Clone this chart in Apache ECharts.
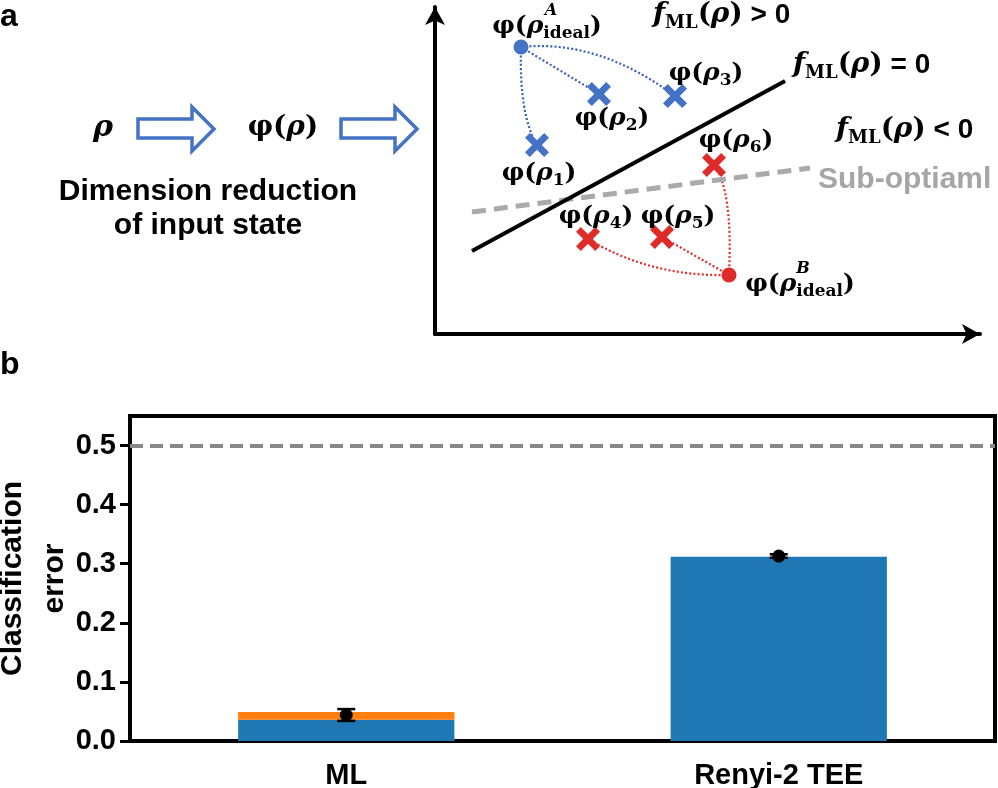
<!DOCTYPE html>
<html><head><meta charset="utf-8">
<script src="https://cdn.jsdelivr.net/npm/echarts@6/dist/echarts.min.js"></script>
<style>html,body{margin:0;padding:0;background:#fff}#c{width:998px;height:788px}</style>
</head><body><div id="c"></div>
<script>
// ---------- Panel b data ----------
const categories = ['ML', 'Renyi-2 TEE'];
const blueValues = [0.036, 0.312];
const orangeValues = [0.013, 0];
const meanValues = [0.044, 0.313];
const errValues = [0.010, 0.003];
const chanceLevel = 0.5;
const yTickValues = [0, 0.1, 0.2, 0.3, 0.4, 0.5];

// ---------- Panel a schematic (abstract feature-space units) ----------
const classAIdeal = [86, 287];
const classAPoints = [[102, 189], [164, 240], [240, 238]];
const classANames = ['1', '2', '3'];
const classAControls = [[84, 219], null, [163, 295]];
const classBIdeal = [294, 59];
const classBPoints = [[153, 95], [227, 97], [279, 169]];
const classBNames = ['4', '5', '6'];
const classBControls = [[216, 57], null, [298, 144]];
const boundaryLine = [[37, 83], [350, 253]];
const subOptimalLine = [[37, 122], [375, 166]];

// ---------- styling ----------
const SANS = 'Liberation Sans, Arial, sans-serif';
const SERIF = 'DejaVu Serif, serif';
const BLUE = '#4472C4';
const BLUE_LINK = '#3560B0';
const RED = '#E02B2B';
const XPATH = 'path://M2,0 L5,3 L8,0 L10,2 L7,5 L10,8 L8,10 L5,7 L2,10 L0,8 L3,5 L0,2 Z';

const phiRich = {
  m: {fontFamily: SERIF, fontWeight: 'bold', fontSize: 25, lineHeight: 32, color: '#000'},
  r: {fontFamily: SERIF, fontWeight: 'bold', fontStyle: 'italic', fontSize: 25, lineHeight: 32, color: '#000'},
  s: {fontFamily: SERIF, fontWeight: 'bold', fontSize: 17, lineHeight: 17, verticalAlign: 'bottom', color: '#000'}
};
const fRich = {
  f: {fontFamily: SERIF, fontWeight: 'bold', fontStyle: 'italic', fontSize: 28, lineHeight: 34, color: '#000'},
  s: {fontFamily: SERIF, fontWeight: 'bold', fontSize: 18, lineHeight: 18, verticalAlign: 'bottom', color: '#000'},
  m: {fontFamily: SERIF, fontWeight: 'bold', fontSize: 28, lineHeight: 34, color: '#000'},
  r: {fontFamily: SERIF, fontWeight: 'bold', fontStyle: 'italic', fontSize: 28, lineHeight: 34, color: '#000'},
  g: {fontFamily: SANS, fontWeight: 'bold', fontSize: 28, lineHeight: 34, color: '#000'}
};
const fText = op => '{f|f}{s|ML}{m|(}{r|ρ}{m|)}{g| ' + op + ' 0}';

const offsA = [[2, 28], [13, 24], [31, -23]];
const offsB = [[8, -23], [16, -21], [22, -25]];

function pointItems(points, names, offs) {
  return points.map((p, i) => ({value: p, name: names[i], label: {offset: offs[i]}}));
}
function linkRows(ideal, points, controls) {
  return points.map((p, i) => {
    const c = controls[i];
    return [ideal[0], ideal[1], p[0], p[1], c ? c[0] : '-', c ? c[1] : '-'];
  });
}
function linkSeries(rows, color) {
  return {
    type: 'custom', xAxisIndex: 0, yAxisIndex: 0, silent: true, z: 1,
    data: rows, encode: {x: [0, 2], y: [1, 3]},
    renderItem: (params, api) => {
      const p0 = api.coord([api.value(0), api.value(1)]);
      const p1 = api.coord([api.value(2), api.value(3)]);
      const style = {stroke: color, lineWidth: 2.2, lineDash: [2, 2.2], fill: null};
      const cx = api.value(4), cy = api.value(5);
      if (isNaN(cx) || isNaN(cy)) {
        return {type: 'line', shape: {x1: p0[0], y1: p0[1], x2: p1[0], y2: p1[1]}, style};
      }
      const c = api.coord([cx, cy]);
      return {type: 'bezierCurve', shape: {x1: p0[0], y1: p0[1], cpx1: c[0], cpy1: c[1], x2: p1[0], y2: p1[1]}, style};
    }
  };
}

const chart = echarts.init(document.getElementById('c'), null, {renderer: 'canvas'});

const arrowPts = x0 => [[x0, 119], [x0 + 54, 119], [x0 + 54, 107], [x0 + 76, 129], [x0 + 54, 151], [x0 + 54, 138], [x0, 138]];

const option = {
  animation: false,
  backgroundColor: '#fff',
  grid: [
    {left: 435, right: 18, top: 7, bottom: 454, show: false, containLabel: false, outerBoundsMode: 'none'},
    {left: 130, right: 3, top: 416, bottom: 47, show: true, borderColor: '#000', borderWidth: 4,
      containLabel: false, outerBoundsMode: 'none'}
  ],
  xAxis: [
    {type: 'value', gridIndex: 0, min: 0, max: 545,
      axisLine: {show: true, symbol: ['none', 'arrow'], symbolSize: [15, 18], lineStyle: {color: '#000', width: 4}},
      axisTick: {show: false}, axisLabel: {show: false}, splitLine: {show: false}},
    {type: 'category', gridIndex: 1, data: categories,
      axisLine: {lineStyle: {color: '#000', width: 4}}, axisTick: {show: false},
      axisLabel: {color: '#000', fontFamily: SANS, fontWeight: 'bold', fontSize: 29, margin: 20}}
  ],
  yAxis: [
    {type: 'value', gridIndex: 0, min: 0, max: 327,
      axisLine: {show: true, symbol: ['none', 'arrow'], symbolSize: [15, 18], lineStyle: {color: '#000', width: 4}},
      axisTick: {show: false}, axisLabel: {show: false}, splitLine: {show: false}},
    {type: 'value', gridIndex: 1, min: 0, max: 0.55, interval: 0.1,
      name: 'Classification\nerror', nameLocation: 'middle', nameRotate: 90, nameGap: 54, nameMoveOverlap: false,
      nameTextStyle: {color: '#000', fontFamily: SANS, fontWeight: 'bold', fontSize: 30, lineHeight: 42},
      axisLine: {show: true, lineStyle: {color: '#000', width: 4}},
      axisTick: {show: true, length: 10, lineStyle: {color: '#000', width: 3}, customValues: yTickValues},
      axisLabel: {color: '#000', fontFamily: SANS, fontWeight: 'bold', fontSize: 29, margin: 14,
        customValues: yTickValues, formatter: v => v.toFixed(1)},
      splitLine: {show: false}}
  ],
  graphic: [
    {type: 'text', x: 0, y: 17, style: {text: 'a', font: 'bold 32px ' + SANS, fill: '#000', verticalAlign: 'middle'}},
    {type: 'text', x: 0, y: 365, style: {text: 'b', font: 'bold 32px ' + SANS, fill: '#000', verticalAlign: 'middle'}},
    {type: 'text', x: 103, y: 128, style: {text: 'ρ', font: 'italic bold 30px ' + SERIF, fill: '#000', align: 'center', verticalAlign: 'middle'}},
    {type: 'text', x: 283, y: 128, style: {text: '{m|φ(}{r|ρ}{m|)}', rich: {
      m: {fontFamily: SERIF, fontWeight: 'bold', fontSize: 28, color: '#000'},
      r: {fontFamily: SERIF, fontWeight: 'bold', fontStyle: 'italic', fontSize: 28, color: '#000'}}, align: 'center', verticalAlign: 'middle'}},
    {type: 'text', x: 208, y: 192, style: {text: 'Dimension reduction', font: 'bold 30px ' + SANS, fill: '#000', align: 'center', verticalAlign: 'middle'}},
    {type: 'text', x: 208, y: 226, style: {text: 'of input state', font: 'bold 30px ' + SANS, fill: '#000', align: 'center', verticalAlign: 'middle'}},
    {type: 'polygon', shape: {points: arrowPts(138)}, style: {fill: '#fff', stroke: BLUE, lineWidth: 3.5}},
    {type: 'polygon', shape: {points: arrowPts(341)}, style: {fill: '#fff', stroke: BLUE, lineWidth: 3.5}},
    {type: 'text', x: 653, y: 15, style: {text: fText('>'), rich: fRich, verticalAlign: 'middle'}},
    {type: 'text', x: 836, y: 130, style: {text: fText('<'), rich: fRich, verticalAlign: 'middle'}}
  ],
  series: [
    // ---- panel a ----
    linkSeries(linkRows(classAIdeal, classAPoints, classAControls), BLUE_LINK),
    linkSeries(linkRows(classBIdeal, classBPoints, classBControls), RED),
    {type: 'line', xAxisIndex: 0, yAxisIndex: 0, data: subOptimalLine, symbol: 'none', silent: true, z: 2,
      lineStyle: {color: '#aaaaaa', width: 5, type: [14, 8]},
      endLabel: {show: true, formatter: 'Sub-optiaml', color: '#a6a6a6', fontFamily: SANS, fontWeight: 'bold', fontSize: 30, distance: 8, offset: [0, 12]}},
    {type: 'line', xAxisIndex: 0, yAxisIndex: 0, data: boundaryLine, symbol: 'none', silent: true, z: 3,
      lineStyle: {color: '#000', width: 4},
      endLabel: {show: true, formatter: fText('='), rich: fRich, distance: 8, offset: [0, -16]}},
    {type: 'scatter', xAxisIndex: 0, yAxisIndex: 0, symbol: XPATH, symbolSize: 24, z: 5,
      itemStyle: {color: BLUE, opacity: 1}, data: pointItems(classAPoints, classANames, offsA),
      label: {show: true, position: 'inside', formatter: p => '{m|φ(}{r|ρ}{s|' + p.name + '}{m|)}', rich: phiRich}},
    {type: 'scatter', xAxisIndex: 0, yAxisIndex: 0, symbol: XPATH, symbolSize: 24, z: 5,
      itemStyle: {color: RED, opacity: 1}, data: pointItems(classBPoints, classBNames, offsB),
      label: {show: true, position: 'inside', formatter: p => '{m|φ(}{r|ρ}{s|' + p.name + '}{m|)}', rich: phiRich}},
    {type: 'scatter', xAxisIndex: 0, yAxisIndex: 0, symbol: 'circle', symbolSize: 15, z: 5,
      data: [
        {value: classAIdeal, name: 'A', itemStyle: {color: BLUE, opacity: 1}, label: {offset: [26, -21]}},
        {value: classBIdeal, name: 'B', itemStyle: {color: RED, opacity: 1}, label: {offset: [71, 9]}}
      ],
      label: {show: true, position: 'inside', formatter: '{m|φ(}{r|ρ}{s|ideal}{m|)}', rich: phiRich}},
    {type: 'scatter', xAxisIndex: 0, yAxisIndex: 0, symbol: 'circle', symbolSize: 1, z: 6, silent: true,
      itemStyle: {color: 'rgba(0,0,0,0)', opacity: 1},
      data: [
        {value: classAIdeal, name: 'A', label: {offset: [30, -36]}},
        {value: classBIdeal, name: 'B', label: {offset: [74, -6]}}
      ],
      label: {show: true, position: 'inside', formatter: p => p.name, color: '#000',
        fontFamily: SERIF, fontWeight: 'bold', fontStyle: 'italic', fontSize: 16}},
    // ---- panel b ----
    {type: 'bar', xAxisIndex: 1, yAxisIndex: 1, stack: 'err', data: blueValues, barWidth: '50%',
      itemStyle: {color: '#1f77b4'},
      markLine: {silent: true, symbol: 'none', label: {show: false},
        lineStyle: {color: '#888', width: 4, type: [13, 7]}, data: [{yAxis: chanceLevel}]}},
    {type: 'bar', xAxisIndex: 1, yAxisIndex: 1, stack: 'err', data: orangeValues, barWidth: '50%',
      itemStyle: {color: '#ff7f0e'}},
    {type: 'custom', xAxisIndex: 1, yAxisIndex: 1, z: 4, silent: true,
      data: meanValues.map((m, i) => [i, m, errValues[i]]),
      encode: {x: 0, y: 1},
      renderItem: (params, api) => {
        const i = api.value(0), m = api.value(1), e = api.value(2);
        const top = api.coord([i, m + e]);
        const bot = api.coord([i, m - e]);
        const hw = 9;
        const st = {stroke: '#000', lineWidth: 2.5};
        return {type: 'group', children: [
          {type: 'line', shape: {x1: top[0], y1: top[1], x2: bot[0], y2: bot[1]}, style: st},
          {type: 'line', shape: {x1: top[0] - hw, y1: top[1], x2: top[0] + hw, y2: top[1]}, style: st},
          {type: 'line', shape: {x1: bot[0] - hw, y1: bot[1], x2: bot[0] + hw, y2: bot[1]}, style: st}
        ]};
      }},
    {type: 'scatter', xAxisIndex: 1, yAxisIndex: 1, z: 5, symbol: 'circle', symbolSize: 13,
      itemStyle: {color: '#000', opacity: 1}, data: meanValues}
  ]
};
chart.setOption(option);
</script>
</body></html>
